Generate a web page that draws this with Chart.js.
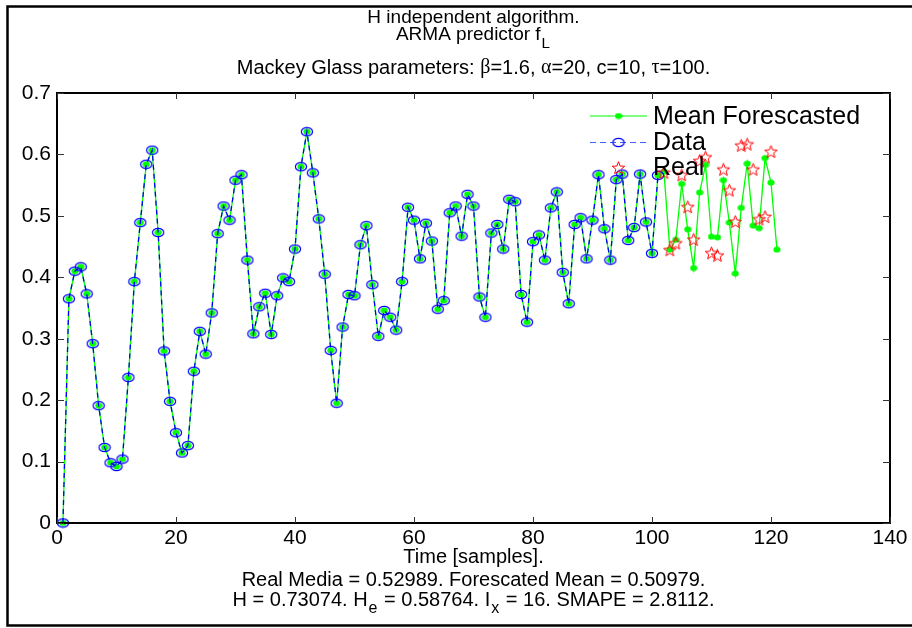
<!DOCTYPE html>
<html>
<head>
<meta charset="UTF-8">
<title>H independent algorithm</title>
<script src="https://cdn.jsdelivr.net/npm/chart.js"></script>
<style>
  html, body { margin: 0; padding: 0; background: #fff; }
  canvas { display: block; }
</style>
</head>
<body>
<canvas id="grafico" width="912" height="628"></canvas>
<script>
// samples 1..101 (Data)
const dataValues = [
  0.000, 0.365, 0.410, 0.417, 0.373, 0.292, 0.191, 0.123, 0.098, 0.092,
  0.104, 0.237, 0.393, 0.489, 0.584, 0.607, 0.473, 0.280, 0.198, 0.147,
  0.114, 0.126, 0.247, 0.312, 0.275, 0.342, 0.471, 0.516, 0.493, 0.558,
  0.567, 0.428, 0.308, 0.352, 0.374, 0.307, 0.370, 0.399, 0.393, 0.446,
  0.580, 0.637, 0.570, 0.495, 0.405, 0.281, 0.195, 0.319, 0.372, 0.370,
  0.453, 0.484, 0.388, 0.304, 0.346, 0.335, 0.314, 0.393, 0.514, 0.493,
  0.430, 0.488, 0.459, 0.348, 0.362, 0.505, 0.516, 0.467, 0.535, 0.516,
  0.368, 0.335, 0.472, 0.486, 0.446, 0.527, 0.523, 0.372, 0.327, 0.458,
  0.469, 0.428, 0.513, 0.539, 0.408, 0.357, 0.486, 0.497, 0.430, 0.493,
  0.567, 0.479, 0.428, 0.559, 0.568, 0.460, 0.481, 0.568, 0.490, 0.439,
  0.566
];
// samples 102..121 (Mean Forescasted, after the data)
const forecastValues = [
  0.572, 0.445, 0.461, 0.552, 0.478, 0.415, 0.538, 0.583, 0.466, 0.465,
  0.558, 0.489, 0.406, 0.513, 0.585, 0.484, 0.480, 0.594, 0.554, 0.445
];
// samples 102..120 (Real)
const realValues = [
  0.571, 0.445, 0.456, 0.567, 0.515, 0.462, 0.590, 0.596, 0.440, 0.436,
  0.576, 0.542, 0.491, 0.615, 0.617, 0.576, 0.495, 0.499, 0.605
];
const firstForecast = 102;
const xTicks = [0, 20, 40, 60, 80, 100, 120, 140];
const yTicks = [0, 0.1, 0.2, 0.3, 0.4, 0.5, 0.6, 0.7];

const GREEN = '#00ff00', BLUE = '#0000ff', RED = '#ff0000';
const FONT = '"Liberation Sans", Arial, sans-serif';
const GREEK = '"Liberation Serif", "Times New Roman", serif';

function marker(w, h, paint) {
  const c = document.createElement('canvas');
  c.width = w; c.height = h;
  paint(c.getContext('2d'), w, h);
  return c;
}
const greenDot = marker(8, 7, (g, w, h) => {
  g.fillStyle = GREEN;
  g.beginPath(); g.ellipse(w / 2, h / 2, 3.6, 3.0, 0, 0, Math.PI * 2); g.fill();
});
const blueRing = marker(14, 11, (g, w, h) => {
  g.strokeStyle = BLUE; g.lineWidth = 1.2;
  g.beginPath(); g.ellipse(w / 2, h / 2, 5.6, 4.2, 0, 0, Math.PI * 2); g.stroke();
});
const redStar = marker(15, 15, (g, w, h) => {
  g.strokeStyle = RED; g.lineWidth = 1;
  g.beginPath();
  for (let i = 0; i < 10; i++) {
    const r = i % 2 ? 2.8 : 6.6;
    const a = -Math.PI / 2 + i * Math.PI / 5;
    const px = w / 2 + r * Math.cos(a), py = h / 2 + 0.8 + r * Math.sin(a);
    i ? g.lineTo(px, py) : g.moveTo(px, py);
  }
  g.closePath(); g.stroke();
});

const dataPts = dataValues.map((v, i) => ({ x: i + 1, y: v }));
const meanPts = dataPts.concat(forecastValues.map((v, i) => ({ x: firstForecast + i, y: v })));
const realPts = realValues.map((v, i) => ({ x: firstForecast + i, y: v }));

// text with sub-scripts, centred on cx
function rich(ctx, parts, cx, y, size) {
  ctx.save();
  ctx.textBaseline = 'middle';
  ctx.fillStyle = '#000';
  let total = 0;
  parts.forEach(p => {
    ctx.font = (p.sub ? size * 0.8 : size) + 'px ' + (p.greek ? GREEK : FONT);
    p.w = ctx.measureText(p.t).width + (p.sub ? 2 : 0);
    total += p.w;
  });
  let x = cx - total / 2;
  parts.forEach(p => {
    ctx.font = (p.sub ? size * 0.8 : size) + 'px ' + (p.greek ? GREEK : FONT);
    ctx.fillText(p.t, x + (p.sub ? 1 : 0), y + (p.sub ? size * 0.45 : 0));
    x += p.w;
  });
  ctx.restore();
}

const decor = {
  id: 'decor',
  afterDatasetsDraw(chart) {
    const { ctx, chartArea: a, scales } = chart;
    const cx = (a.left + a.right) / 2;
    ctx.save();
    // axes box and inward ticks
    ctx.strokeStyle = '#000';
    ctx.lineWidth = 2;
    ctx.strokeRect(a.left, a.top, a.right - a.left, a.bottom - a.top);
    ctx.lineWidth = 1;
    ctx.strokeStyle = '#333';
    ctx.beginPath();
    xTicks.forEach(t => {
      const px = Math.round(scales.x.getPixelForValue(t)) + 0.5;
      ctx.moveTo(px, a.bottom); ctx.lineTo(px, a.bottom - 6);
      ctx.moveTo(px, a.top); ctx.lineTo(px, a.top + 6);
    });
    yTicks.forEach(t => {
      const py = Math.round(scales.y.getPixelForValue(t)) + 0.5;
      ctx.moveTo(a.left, py); ctx.lineTo(a.left + 7, py);
      ctx.moveTo(a.right, py); ctx.lineTo(a.right - 7, py);
    });
    ctx.stroke();

    // legend (no box)
    const lx0 = 590, lx1 = 647, lm = 618.5, tx = 653;
    const rows = [116, 142.5, 167.5];
    ctx.lineWidth = 1.2;
    ctx.strokeStyle = GREEN;
    ctx.beginPath(); ctx.moveTo(lx0, rows[0]); ctx.lineTo(lx1, rows[0]); ctx.stroke();
    ctx.drawImage(greenDot, lm - greenDot.width / 2, rows[0] - greenDot.height / 2);
    ctx.strokeStyle = '#4060ff';
    ctx.setLineDash([6, 4]);
    ctx.beginPath(); ctx.moveTo(lx0, rows[1]); ctx.lineTo(lx1, rows[1]); ctx.stroke();
    ctx.setLineDash([]);
    ctx.drawImage(blueRing, lm - blueRing.width / 2, rows[1] - blueRing.height / 2);
    ctx.drawImage(redStar, lm - redStar.width / 2, rows[2] - redStar.height / 2);
    ctx.fillStyle = '#000';
    ctx.textBaseline = 'middle';
    ctx.font = '25px ' + FONT;
    ctx.fillText('Mean Forescasted', tx, rows[0] + 1);
    ctx.fillText('Data', tx, rows[1] + 1);
    ctx.fillText('Real', tx, rows[2] + 1);

    // titles
    rich(ctx, [{ t: 'H independent algorithm.' }], cx, 18, 19);
    rich(ctx, [{ t: 'ARMA predictor f' }, { t: 'L', sub: true }], cx, 35, 19);
    rich(ctx, [
      { t: 'Mackey Glass parameters: ' }, { t: 'β', greek: true }, { t: '=1.6, ' },
      { t: 'α', greek: true }, { t: '=20, c=10, ' }, { t: 'τ', greek: true }, { t: '=100.' }
    ], cx, 68, 20);
    rich(ctx, [{ t: 'Time [samples].' }], cx, 557, 20);
    rich(ctx, [{ t: 'Real Media = 0.52989. Forescated Mean = 0.50979.' }], cx, 580, 20);
    rich(ctx, [
      { t: 'H = 0.73074. H' }, { t: 'e', sub: true }, { t: ' = 0.58764. I' },
      { t: 'x', sub: true }, { t: ' = 16. SMAPE = 2.8112.' }
    ], cx, 600, 20);

    // outer frame
    ctx.strokeStyle = '#000';
    ctx.lineWidth = 2.5;
    ctx.strokeRect(7.5, 6.5, 1000, 619);
    ctx.restore();
  }
};

new Chart(document.getElementById('grafico'), {
  type: 'line',
  data: {
    datasets: [
      {
        label: 'Mean Forescasted', data: meanPts, order: 2,
        borderColor: GREEN, borderWidth: 1.3, pointStyle: greenDot, pointRadius: 3,
        clip: false
      },
      {
        label: 'Data', data: dataPts, order: 1,
        borderColor: BLUE, borderWidth: 1.3, borderDash: [5, 4], pointStyle: blueRing,
        pointRadius: 5, clip: false
      },
      {
        label: 'Real', data: realPts, order: 0, showLine: false,
        borderColor: RED, pointStyle: redStar, pointRadius: 6, clip: false
      }
    ]
  },
  options: {
    responsive: false,
    animation: false,
    devicePixelRatio: 1,
    layout: { padding: { left: 0, right: 22, top: 93, bottom: 0 } },
    plugins: { legend: { display: false }, tooltip: { enabled: false } },
    scales: {
      x: {
        type: 'linear', min: 0, max: 140,
        afterFit(s) { s.height = 105; },
        afterBuildTicks(s) { s.ticks = xTicks.map(v => ({ value: v })); },
        grid: { display: false, drawTicks: false }, border: { display: false },
        ticks: { color: '#000', padding: 3, font: { family: FONT, size: 21 }, maxRotation: 0 }
      },
      y: {
        min: 0, max: 0.7,
        afterFit(s) { s.width = 57; },
        afterBuildTicks(s) { s.ticks = yTicks.map(v => ({ value: v })); },
        grid: { display: false, drawTicks: false }, border: { display: false },
        ticks: {
          color: '#000', padding: 6, font: { family: FONT, size: 21 },
          callback: v => (v === 0 ? '0' : v.toFixed(1))
        }
      }
    }
  },
  plugins: [decor]
});
</script>
</body>
</html>
